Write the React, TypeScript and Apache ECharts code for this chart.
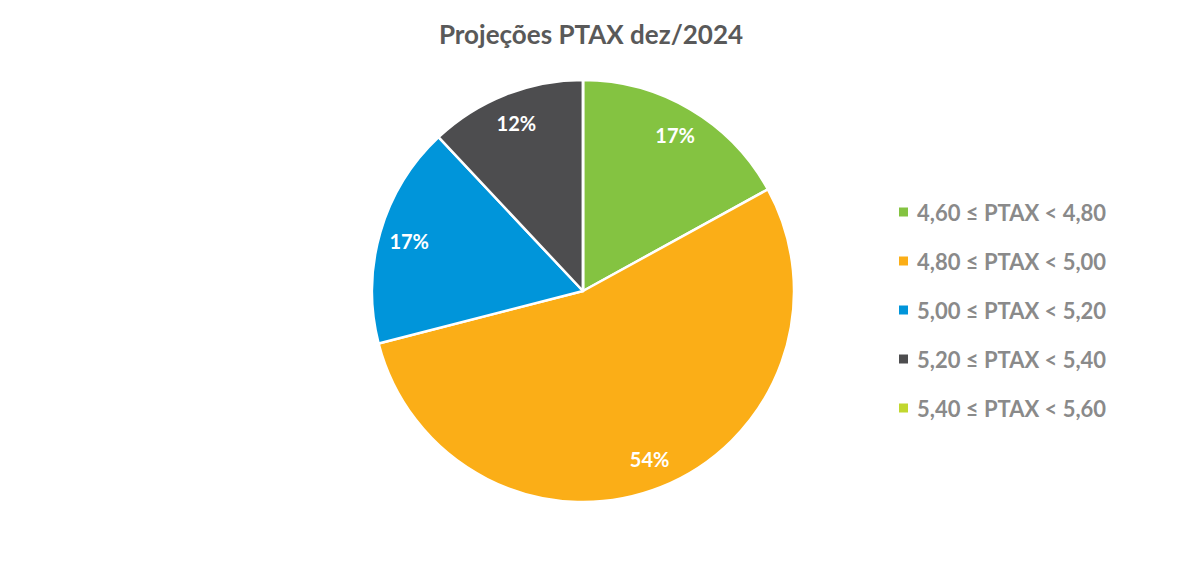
import React, { useEffect, useRef } from "react";
import * as echarts from "echarts";

const categories = [
  "4,60 ≤ PTAX < 4,80",
  "4,80 ≤ PTAX < 5,00",
  "5,00 ≤ PTAX < 5,20",
  "5,20 ≤ PTAX < 5,40",
  "5,40 ≤ PTAX < 5,60",
];
const values = [17, 54, 17, 12, 0];
const colors = ["#84C341", "#FBAE17", "#0095DA", "#4D4D4F", "#C1D72F"];
const title = "Projeções PTAX dez/2024";

export default function App() {
  const ref = useRef<HTMLDivElement>(null);
  useEffect(() => {
    if (!ref.current) return;
    const chart = echarts.init(ref.current, null, { renderer: "svg" });
    const total = values.reduce((a, b) => a + b, 0);
    const data = categories.map((name, i) => ({
      name,
      value: values[i],
      itemStyle: { color: colors[i] },
    }));
    chart.setOption({
      animation: false,
      backgroundColor: "#ffffff",
      title: {
        text: title,
        left: 586,
        textAlign: "center",
        top: 16,
        textStyle: {
          fontFamily: "Lato",
          fontWeight: "bold",
          fontSize: 26,
          color: "#595959",
        },
      },
      legend: {
        orient: "vertical",
        left: 892,
        top: 196,
        icon: "rect",
        itemWidth: 11,
        itemHeight: 11,
        itemGap: 27,
        data: categories,
        textStyle: {
          fontFamily: "Lato",
          fontWeight: "bold",
          fontSize: 22,
          lineHeight: 22,
          color: "#8A8A8A",
          padding: [0, 0, 0, 3],
        },
      },
      series: [
        {
          type: "pie",
          center: [583, 291],
          radius: [0, 211],
          startAngle: 90,
          clockwise: true,
          silent: true,
          data,
          label: { show: false },
          labelLine: { show: false },
          itemStyle: { borderColor: "#ffffff", borderWidth: 2.5 },
        },
        {
          type: "pie",
          center: [583, 291],
          radius: [168, 188],
          startAngle: 90,
          clockwise: true,
          silent: true,
          legendHoverLink: false,
          data: categories.map((name, i) => ({
            name,
            value: values[i],
            itemStyle: { color: "rgba(0,0,0,0)", borderWidth: 0 },
          })),
          label: {
            show: true,
            position: "inside",
            formatter: (p: any) =>
              p.value > 0 ? Math.round((p.value / total) * 100) + "%" : "",
            fontFamily: "Lato",
            fontWeight: "bold",
            fontSize: 20,
            color: "#ffffff",
          },
          labelLine: { show: false },
        },
      ],
    });
    return () => chart.dispose();
  }, []);
  return (
    <div
      ref={ref}
      style={{ position: "fixed", left: 0, top: 0, width: 1179, height: 561 }}
    />
  );
}
